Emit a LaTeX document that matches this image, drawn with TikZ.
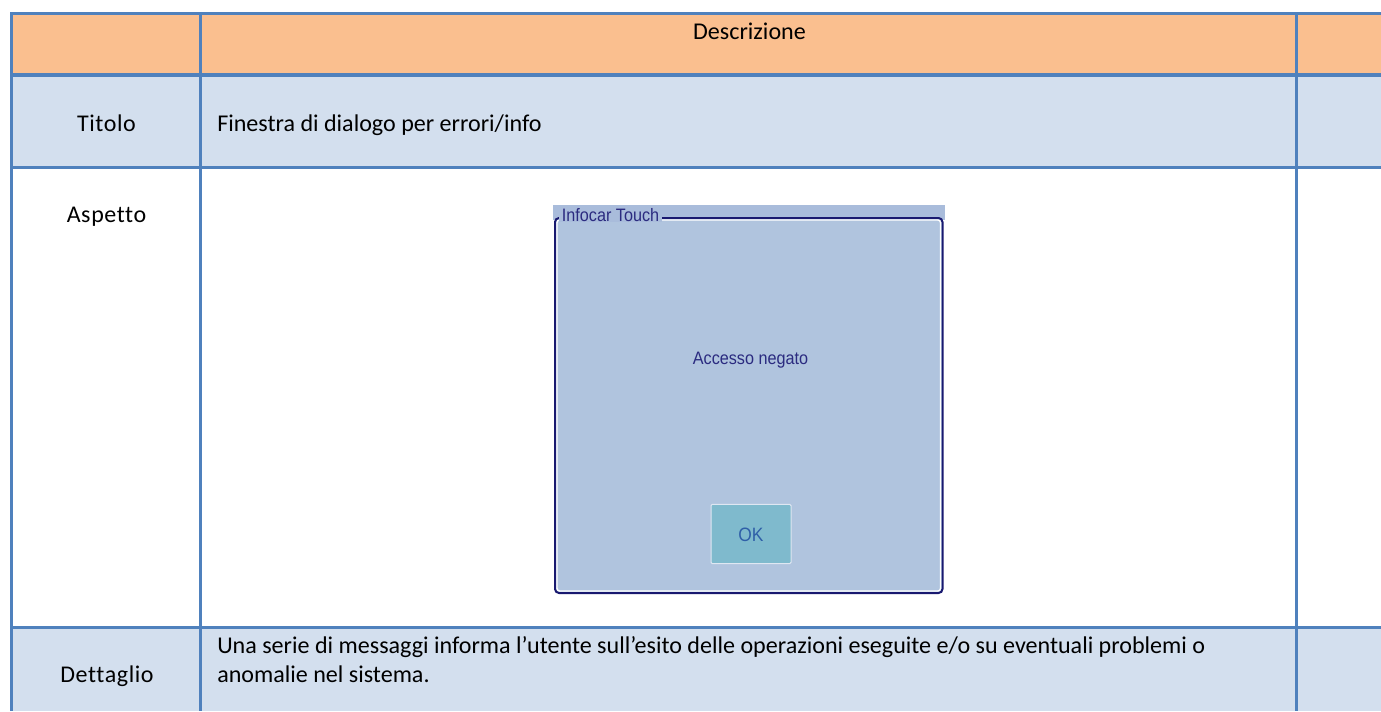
\documentclass[tikz,border=0pt]{standalone}
\usepackage{fontspec}
\setmainfont[Ligatures={NoCommon}]{Carlito}
\newfontfamily\lblfont[Ligatures={NoCommon},LetterSpace=2.5]{Carlito}
\newfontfamily\dlgfont[FakeStretch=0.9]{Liberation Sans}
\definecolor{grid}{HTML}{4F81BD}
\definecolor{headfill}{HTML}{FABF8F}
\definecolor{rowfill}{HTML}{D3DFEE}
\definecolor{dlgfill}{HTML}{B0C4DE}
\definecolor{dlgband}{HTML}{A9BCDB}
\definecolor{navy}{HTML}{191970}
\definecolor{dlgink}{HTML}{2B2B80}
\definecolor{btnfill}{HTML}{7FBACD}
\definecolor{oktext}{HTML}{2F5FA8}
\tikzset{
  gridline/.style={draw=grid,line width=2.25pt},
  celltext/.style={font=\fontsize{18.05}{22}\selectfont,text=black,inner sep=0pt,anchor=base west},
  lbltext/.style={font=\lblfont\fontsize{18}{22}\selectfont,text=black,inner sep=0pt,anchor=base},
  dlgtext/.style={font=\dlgfont\fontsize{13.5}{15}\selectfont,text=dlgink,inner sep=0pt,anchor=base},
}
\begin{document}
\begin{tikzpicture}[x=0.75pt,y=-0.75pt]
\useasboundingbox (0,0) rectangle (1381,711);
\fill[white] (0,0) rectangle (1381,711);
\fill[headfill] (11,13) rectangle (1381,75);
\fill[rowfill] (11,75) rectangle (1381,167);
\fill[rowfill] (11,627) rectangle (1381,711);
% grid
\draw[gridline,line width=3.4pt] (11,75) -- (1381,75);
\draw[gridline] (10,13.5) -- (1381,13.5);
\draw[gridline] (10,167.5) -- (1381,167.5);
\draw[gridline] (10,627.5) -- (1381,627.5);
\draw[gridline] (11.5,12) -- (11.5,711);
\draw[gridline] (200,12) -- (200,711);
\draw[gridline] (1296.5,12) -- (1296.5,711);
% texts
\node[celltext,anchor=base] (head) at (749.5,39) {Descrizione};
\node[lbltext] (titolo) at (106.5,131) {Titolo};
\node[celltext] (titolotxt) at (217,131) {Finestra di dialogo per errori/info};
\node[lbltext] (aspetto) at (106.5,222) {Aspetto};
\node[lbltext] (dettaglio) at (107,682) {Dettaglio};
\node[celltext] (det1) at (217,653) {Una serie di messaggi informa l’utente sull’esito delle operazioni eseguite e/o su eventuali problemi o};
\node[celltext] (det2) at (217,682) {anomalie nel sistema.};
% dialog
\fill[dlgband] (553,205) rectangle (945,220);
\fill[dlgfill] (556,220) rectangle (942,592);
\draw[navy,line width=1.5pt,rounded corners=3pt] (555,593) -- (555,218) -- (942.5,218) -- (942.5,593) -- cycle;
\draw[white,line width=1pt,rounded corners=2pt] (557,591) -- (557,220) -- (940.5,220) -- (940.5,591) -- cycle;
\fill[dlgband] (559,205) rectangle (662,222);
\node[dlgtext] (dlgtitle) at (610.5,221) {Infocar Touch};
\node[dlgtext] (dlgmsg) at (750.5,364) {Accesso negato};
\node[draw=white!60!dlgfill,line width=0.75pt,fill=btnfill,minimum width=60pt,minimum height=44.5pt,inner sep=0pt,rounded corners=1pt] (ok) at (751,534) {};
\node[anchor=base,inner sep=0pt,font=\dlgfont\fontsize{14.5}{16}\selectfont,text=oktext] (oklabel) at (751,541) {OK};
\end{tikzpicture}
\end{document}
